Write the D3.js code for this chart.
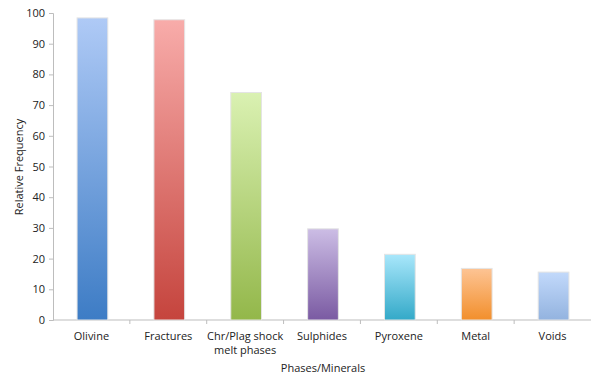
<!DOCTYPE html>
<html>
<head>
<meta charset="utf-8">
<script src="https://cdn.jsdelivr.net/npm/d3@7"></script>
<style>
  body { margin: 0; background: #fff; }
  svg text { font-family: "Open Sans", "DejaVu Sans", sans-serif; fill: #222; }
</style>
</head>
<body>
<div id="chart"></div>
<script>
// categories and values
var categories = ["Olivine", "Fractures", "Chr/Plag shock melt phases", "Sulphides", "Pyroxene", "Metal", "Voids"];
var values = [98.4, 97.8, 74.1, 29.7, 21.4, 16.8, 15.6];
var topColors = ["#afcaf6", "#f8acaa", "#daf1b2", "#ccbde5", "#a9e7fb", "#fdc494", "#c2d9fb"];
var bottomColors = ["#3d7cc5", "#c5443d", "#93b74a", "#7a5aa2", "#33a9c8", "#f28f2c", "#93b3df"];
var yTicks = [0, 10, 20, 30, 40, 50, 60, 70, 80, 90, 100];

var W = 591, H = 377;
var margin = { top: 13, right: 0, bottom: 57, left: 53 };

var svg = d3.select("#chart").append("svg")
    .attr("width", W)
    .attr("height", H);

var x = d3.scaleBand()
    .domain(categories)
    .range([margin.left, W - margin.right])
    .padding(0);

var y = d3.scaleLinear()
    .domain([0, 100])
    .range([H - margin.bottom, margin.top]);

// gradients, one per bar
var defs = svg.append("defs");
categories.forEach(function(c, i) {
    var g = defs.append("linearGradient")
        .attr("id", "grad" + i)
        .attr("x1", 0).attr("y1", 0)
        .attr("x2", 0).attr("y2", 1);
    g.append("stop").attr("offset", "0%").attr("stop-color", topColors[i]);
    g.append("stop").attr("offset", "100%").attr("stop-color", bottomColors[i]);
});

// y axis
var yAxis = svg.append("g")
    .attr("transform", "translate(" + margin.left + ",0)")
    .call(d3.axisLeft(y).tickValues(yTicks).tickSize(4).tickPadding(4));
yAxis.select(".domain").attr("stroke", "#bdbdbd");
yAxis.selectAll(".tick line").attr("stroke", "#bdbdbd");
yAxis.selectAll("text").style("font-size", "11px").attr("fill", "#222");

// x axis, ticks between bands
var xAxis = svg.append("g")
    .attr("transform", "translate(0," + y(0) + ")");
xAxis.append("line")
    .attr("x1", margin.left).attr("x2", W - margin.right)
    .attr("stroke", "#bdbdbd");
xAxis.selectAll(".xtick")
    .data(categories.slice(1))
    .enter().append("line")
    .attr("class", "xtick")
    .attr("x1", function(d) { return x(d); })
    .attr("x2", function(d) { return x(d); })
    .attr("y1", 0).attr("y2", 4)
    .attr("stroke", "#bdbdbd");

// category labels (wrap the long one)
var labelLines = {
    "Chr/Plag shock melt phases": ["Chr/Plag shock", "melt phases"]
};
categories.forEach(function(c) {
    var lines = labelLines[c] || [c];
    var t = svg.append("text")
        .attr("x", x(c) + x.bandwidth() / 2)
        .attr("y", y(0) + 20)
        .attr("text-anchor", "middle")
        .style("font-size", "11px");
    lines.forEach(function(l, j) {
        t.append("tspan")
            .attr("x", x(c) + x.bandwidth() / 2)
            .attr("dy", j === 0 ? 0 : 14)
            .text(l);
    });
});

// bars
var barW = x.bandwidth() * 0.4;
svg.selectAll(".bar")
    .data(values)
    .enter().append("rect")
    .attr("class", "bar")
    .attr("x", function(d, i) { return x(categories[i]) + x.bandwidth() / 2 - barW / 2 + 1; })
    .attr("y", function(d) { return y(d); })
    .attr("width", barW)
    .attr("height", function(d) { return y(0) - y(d); })
    .attr("fill", function(d, i) { return "url(#grad" + i + ")"; })
    .attr("stroke", "#e4e4e4")
    .attr("stroke-width", 1);

// axis titles
svg.append("text")
    .attr("transform", "rotate(-90)")
    .attr("x", -167)
    .attr("y", 23)
    .attr("text-anchor", "middle")
    .style("font-size", "11px")
    .text("Relative Frequency");

svg.append("text")
    .attr("x", 323)
    .attr("y", 372)
    .attr("text-anchor", "middle")
    .style("font-size", "11px")
    .text("Phases/Minerals");
</script>
</body>
</html>
